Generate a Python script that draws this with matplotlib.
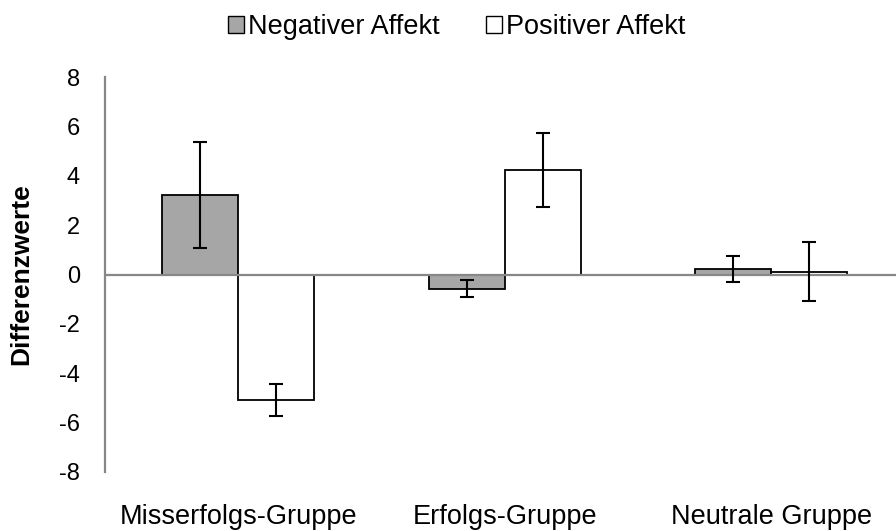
import matplotlib
matplotlib.use("Agg")
import matplotlib.pyplot as plt
import numpy as np
from matplotlib.patches import Patch

categories = ["Misserfolgs-Gruppe", "Erfolgs-Gruppe", "Neutrale Gruppe"]
neg_values = [3.22, -0.58, 0.22]
neg_errors = [2.15, 0.35, 0.51]
pos_values = [-5.1, 4.25, 0.12]
pos_errors = [0.65, 1.5, 1.18]
series_names = ["Negativer Affekt", "Positiver Affekt"]
yticks = [-8, -6, -4, -2, 0, 2, 4, 6, 8]

plt.rcParams['font.family'] = ['Liberation Sans', 'DejaVu Sans']

W, H = 896, 531
fig = plt.figure(figsize=(W / 100, H / 100), dpi=100)
ax = fig.add_axes([105 / W, (H - 472) / H, (W - 105) / W, 395 / H])

x = np.arange(len(categories))
bw = 0.285
gray = "#A6A6A6"
ax.bar(x - bw / 2, neg_values, bw, color=gray, edgecolor="black", linewidth=1.3, zorder=2)
ax.bar(x + bw / 2, pos_values, bw, color="white", edgecolor="black", linewidth=1.3, zorder=2)
ax.errorbar(x - bw / 2, neg_values, yerr=neg_errors, fmt="none", ecolor="black",
            elinewidth=1.5, capsize=5, capthick=1.5, zorder=4)
ax.errorbar(x + bw / 2, pos_values, yerr=pos_errors, fmt="none", ecolor="black",
            elinewidth=1.5, capsize=5, capthick=1.5, zorder=4)
ax.axhline(0, color="#878787", linewidth=1.6, zorder=3)

ax.set_xlim(-0.5, -0.5 + (W - 105) / 266.5)
ax.set_ylim(-8, 8)
ax.set_yticks(yticks)
ax.set_yticklabels([str(v) for v in yticks], fontsize=17)
ax.set_xticks(x)
ax.set_xticklabels(categories, fontsize=19.5)
ax.tick_params(axis="both", length=0, colors="black")
ax.tick_params(axis="y", pad=18)
ax.tick_params(axis="x", pad=23)
for s in ["top", "right", "bottom"]:
    ax.spines[s].set_visible(False)
ax.spines["left"].set_color("#878787")
ax.spines["left"].set_linewidth(1.6)

ax.set_ylabel("Differenzwerte", fontsize=19, fontweight="bold")
ax.yaxis.set_label_coords((33 - 105) / (W - 105), 0.5)

handles = [Patch(facecolor=gray, edgecolor="black", linewidth=1.0),
           Patch(facecolor="white", edgecolor="black", linewidth=1.0)]
fig.legend(handles, series_names, loc="center", bbox_to_anchor=(457 / W, 1 - 27 / H),
           ncol=2, frameon=False, fontsize=19.5, handlelength=0.6, handleheight=0.6,
           handletextpad=0.15, columnspacing=1.7, borderaxespad=0)

fig.savefig("out.png", dpi=100)
